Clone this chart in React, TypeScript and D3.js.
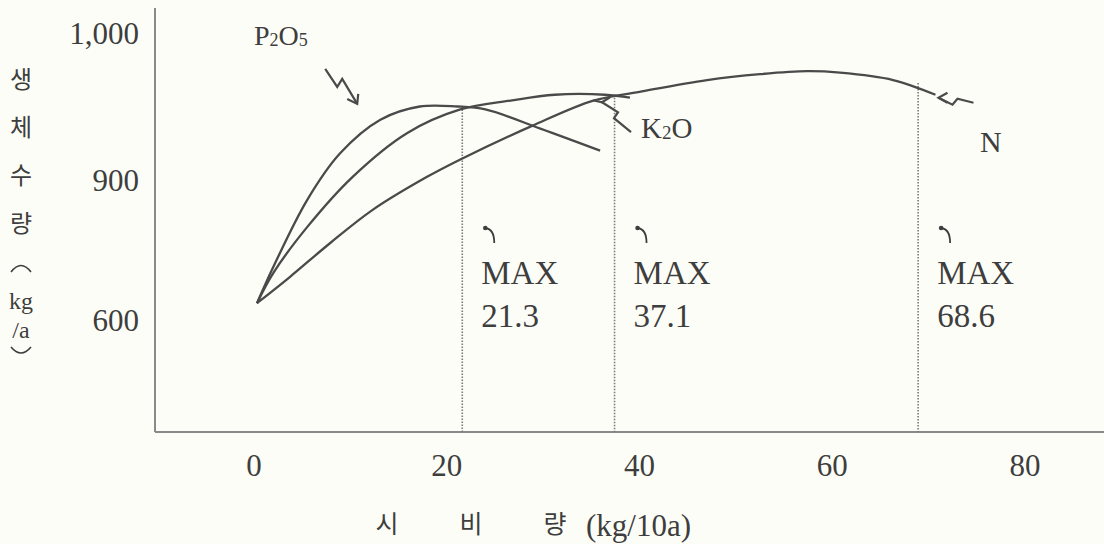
import React from "react";
import * as d3 from "d3";

// ---- data ----
const xTicks = [0, 20, 40, 60, 80];
const yTicks = [600, 900, 1000];
const yTickLabels = ["600", "900", "1,000"];

const p2o5X = [0, 1.7, 5.2, 8.6, 12.8, 16.9, 20.8, 23.7, 29.4, 35.6];
const p2o5Y = [636, 714, 857, 918, 941, 950, 950, 948, 935, 920];

const k2oX = [0, 1.7, 5.2, 9.9, 15.6, 21.1, 26.3, 30.9, 36.1, 38.7];
const k2oY = [636, 701, 799, 902, 932, 948, 954, 958, 958, 956];

const nX = [0, 3.4, 7.6, 12.0, 17.6, 21.1, 28.6, 34.9, 39.7, 46.7, 52.2, 57.1, 60.5, 66.0, 70.4];
const nY = [636, 692, 765, 836, 902, 914, 937, 954, 960, 968, 972, 974, 973, 968, 958];

const maxValues = [21.3, 37.1, 68.6];
const maxTops = [950, 958, 966];

const yTitleChars = ["생", "체", "수", "량"];
const xTitleChars = ["시", "비", "량"];

const W = 1104;
const H = 544;

export default function App() {
  const x = d3.scaleLinear().domain([0, 80]).range([257, 1028]);
  const y = d3.scaleLinear().domain([600, 900, 1000]).range([320, 180, 33]);
  const axisLeft = 155;
  const axisBottom = 432;
  const axisTop = 8;

  const line = d3
    .line<[number, number]>()
    .x((d) => x(d[0]))
    .y((d) => y(d[1]))
    .curve(d3.curveCatmullRom.alpha(0.5));

  const zip = (a: number[], b: number[]) => a.map((v, i) => [v, b[i]] as [number, number]);
  const series = [zip(p2o5X, p2o5Y), zip(k2oX, k2oY), zip(nX, nY)];

  const ink = "#4a4a4a";
  const textInk = "#3e3e3e";
  const serif = "'Liberation Serif', 'DejaVu Serif', serif";
  const kr = "'Noto Sans CJK KR', sans-serif";

  // annotation anchors from data
  const p2Tip = [x(10.4), y(947) - 7];
  const kTip = [x(35.8), y(957) + 6];
  const nTip = [x(70.4), y(958) + 2];

  return (
    <div style={{ position: "fixed", left: 0, top: 0 }}>
      <svg width={W} height={H} style={{ display: "block", background: "#fdfdf7" }}>
        {/* axes */}
        <line x1={axisLeft} y1={axisTop} x2={axisLeft} y2={axisBottom} stroke="#8a8a8a" strokeWidth={2} />
        <line x1={axisLeft} y1={axisBottom} x2={W} y2={axisBottom} stroke="#8a8a8a" strokeWidth={2} />

        {/* y tick labels */}
        {yTicks.map((t, i) => (
          <text key={t} x={139} y={y(t)} dy="0.35em" textAnchor="end" fontFamily={serif} fontSize={31} fill={textInk}>
            {yTickLabels[i]}
          </text>
        ))}

        {/* x tick labels */}
        {xTicks.map((t) => (
          <text key={t} x={x(t) - 3} y={465} dy="0.35em" textAnchor="middle" fontFamily={serif} fontSize={31} fill={textInk}>
            {t}
          </text>
        ))}

        {/* y title */}
        {yTitleChars.map((c, i) => (
          <text key={c + i} x={21} y={80 + i * 48} dy="0.35em" textAnchor="middle" fontFamily={kr} fontSize={24} fill={textInk}>
            {c}
          </text>
        ))}
        <path d="M 11 272 Q 21 259 31 272" fill="none" stroke={textInk} strokeWidth={1.6} />
        <text x={21} y={301} dy="0.35em" textAnchor="middle" fontFamily={serif} fontSize={24} fill={textInk}>kg</text>
        <text x={21} y={330} dy="0.35em" textAnchor="middle" fontFamily={serif} fontSize={24} fill={textInk}>/a</text>
        <path d="M 11 347 Q 21 359 31 347" fill="none" stroke={textInk} strokeWidth={1.6} />

        {/* x title */}
        {xTitleChars.map((c, i) => (
          <text key={c + i} x={387 + i * 84} y={524} dy="0.35em" textAnchor="middle" fontFamily={kr} fontSize={25} fill={textInk}>
            {c}
          </text>
        ))}
        <text x={586} y={525} dy="0.35em" fontFamily={serif} fontSize={31} fill={textInk}>(kg/10a)</text>

        {/* dotted max lines */}
        {maxValues.map((m, i) => (
          <line key={m} x1={x(m)} x2={x(m)} y1={y(maxTops[i])} y2={axisBottom} stroke="#7a7a7a" strokeWidth={1.6} strokeDasharray="1.5 1.5" />
        ))}

        {/* curves */}
        {series.map((s, i) => (
          <path key={i} d={line(s) || ""} fill="none" stroke={ink} strokeWidth={2.3} />
        ))}

        {/* MAX labels */}
        {maxValues.map((m) => {
          const lx = x(m) + 19;
          return (
            <g key={"max" + m}>
              <circle cx={lx + 4} cy={228} r={2.3} fill={textInk} />
              <path d={`M ${lx + 4} 228 Q ${lx + 13} 229 ${lx + 13} 243`} fill="none" stroke={textInk} strokeWidth={1.8} />
              <text x={lx} y={284} fontFamily={serif} fontSize={33} fill={textInk}>MAX</text>
              <text x={lx} y={327} fontFamily={serif} fontSize={33} fill={textInk}>{m.toFixed(1)}</text>
            </g>
          );
        })}

        {/* P2O5 label and arrow */}
        <text x={254} y={45} fontFamily={serif} fontSize={28} fill={textInk}>
          P<tspan fontSize={18} dy={1}>2</tspan><tspan dy={-1}>O</tspan><tspan fontSize={18} dy={1}>5</tspan>
        </text>
        <path
          d={`M ${p2Tip[0] - 32} ${p2Tip[1] - 35} L ${p2Tip[0] - 20} ${p2Tip[1] - 17} L ${p2Tip[0] - 15} ${p2Tip[1] - 25} L ${p2Tip[0]} ${p2Tip[1]}`}
          fill="none" stroke={ink} strokeWidth={2.2} />
        <path d={`M ${p2Tip[0] - 10} ${p2Tip[1] - 5} L ${p2Tip[0]} ${p2Tip[1]} L ${p2Tip[0] + 1} ${p2Tip[1] - 10}`} fill="none" stroke={ink} strokeWidth={2.2} />

        {/* K2O label and arrow */}
        <text x={641} y={138} fontFamily={serif} fontSize={29} fill={textInk}>
          K<tspan fontSize={19} dy={1}>2</tspan><tspan dy={-1}>O</tspan>
        </text>
        <path d={`M ${kTip[0] + 29} ${kTip[1] + 30} L ${kTip[0] + 12} ${kTip[1] + 16} L ${kTip[0] + 16} ${kTip[1] + 10} L ${kTip[0]} ${kTip[1]}`} fill="none" stroke={ink} strokeWidth={2.2} />
        <path d={`M ${kTip[0] - 9} ${kTip[1] - 2} L ${kTip[0]} ${kTip[1]} L ${kTip[0] + 8} ${kTip[1] - 5}`} fill="none" stroke={ink} strokeWidth={2.2} />

        {/* N label and arrow */}
        <text x={980} y={152} fontFamily={serif} fontSize={30} fill={textInk}>N</text>
        <path d={`M ${nTip[0] + 38} ${nTip[1] + 6} L ${nTip[0] + 22} ${nTip[1] + 2} L ${nTip[0] + 17} ${nTip[1] + 8} L ${nTip[0] + 3} ${nTip[1] + 1}`} fill="none" stroke={ink} strokeWidth={2.2} />
        <path d={`M ${nTip[0] + 12} ${nTip[1] - 4} L ${nTip[0] + 3} ${nTip[1] + 1} L ${nTip[0] + 12} ${nTip[1] + 6}`} fill="none" stroke={ink} strokeWidth={2.2} />
      </svg>
    </div>
  );
}
